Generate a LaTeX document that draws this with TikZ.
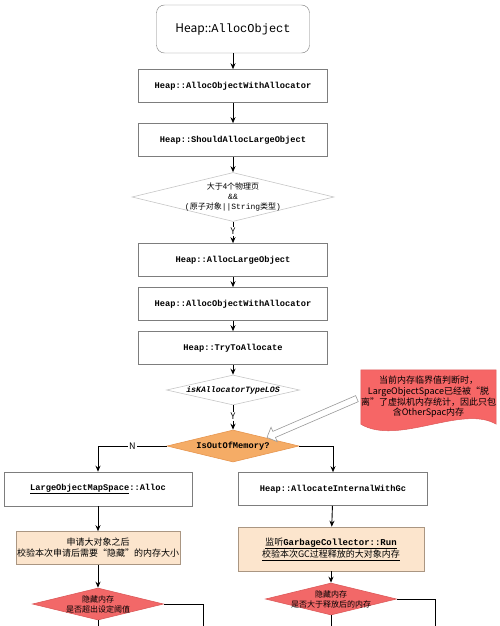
\documentclass[tikz,border=0pt]{standalone}
\usepackage{fontspec}
\setmainfont{Noto Sans CJK SC}
\setmonofont{Liberation Mono}
\usepackage{tikz}
\usetikzlibrary{shapes.geometric, shapes.arrows, arrows.meta, backgrounds}
\definecolor{oomorange}{RGB}{245,172,102}
\definecolor{oomborder}{RGB}{230,150,80}
\definecolor{alertred}{RGB}{242,104,104}
\definecolor{alertborder}{RGB}{220,90,90}
\definecolor{notered}{RGB}{246,102,102}
\definecolor{checkbeige}{RGB}{252,229,205}
\definecolor{beigeborder}{RGB}{170,150,130}
\definecolor{boxgray}{RGB}{125,125,125}
\newcommand{\codefont}{\fontsize{8.7pt}{10pt}\selectfont\ttfamily\bfseries}
\newcommand{\losfont}{\fontsize{8.2pt}{10pt}\selectfont\ttfamily\bfseries\itshape}
\newcommand{\cnfont}{\fontsize{9pt}{11pt}\selectfont}
\newcommand{\condfont}{\fontsize{8pt}{10pt}\selectfont}

\begin{document}
\begin{tikzpicture}[x=1pt, y=-1pt,
    startbox/.style={draw=boxgray, rounded corners=8pt, minimum width=153pt, minimum height=48pt, inner sep=0pt, font=\fontsize{12pt}{14pt}\selectfont},
    callbox/.style={draw=boxgray, fill=white, line width=0.6pt, minimum width=189pt, minimum height=33pt, inner sep=0pt, font=\codefont},
    checkbox/.style={draw=beigeborder, fill=checkbeige, line width=0.6pt, inner sep=0pt, font=\cnfont, align=center},
    decision/.style={diamond, draw=#1, line width=0.6pt, inner sep=0pt},
    condtext/.style={font=\condfont, align=center},
    flow/.style={line width=0.9pt, -{Stealth[length=6pt,width=5pt]}},
    stub/.style={line width=0.9pt},
    branchlabel/.style={fill=white, inner sep=1pt, font=\fontsize{9pt}{9pt}\selectfont},
    hollowarrow/.style={single arrow, draw=gray!80, fill=white, line width=0.6pt, minimum height=98pt, inner xsep=0pt, inner ysep=3pt, single arrow head extend=4.5pt, shape border rotate=180}
]
    \useasboundingbox (0,0) rectangle (500,626);

    % entry and call chain
    \node[startbox] (alloc) at (233,29) {Heap::\texttt{AllocObject}};
    \node[callbox] (withalloc) at (233,86) {Heap::AllocObjectWithAllocator};
    \node[callbox] (should) at (233,140) {Heap::ShouldAllocLargeObject};
    \node[decision=gray!45, minimum width=202pt, minimum height=49pt,
          label={[condtext]center:{大于4个物理页\\\texttt{\&\&}\\\texttt{(}原子对象\texttt{||String}类型\texttt{)}}}] (islarge) at (233,197) {};
    \node[callbox] (alloclarge) at (233,260) {Heap::AllocLargeObject};
    \node[callbox] (withalloc2) at (233,304) {Heap::AllocObjectWithAllocator};
    \node[callbox] (tryalloc) at (233,348) {Heap::TryToAllocate};
    \node[decision=gray!45, minimum width=133pt, minimum height=30pt,
          label={[font=\losfont]center:isKAllocatorTypeLOS}] (islos) at (233,390) {};
    \node[decision=oomborder, fill=oomorange, minimum width=132pt, minimum height=32pt,
          label={[font=\codefont]center:IsOutOfMemory?}] (oom) at (233,446) {};

    % N branch
    \node[callbox, minimum width=188pt, minimum height=34pt] (losalloc) at (98,489) {\underline{LargeObjectMapSpace}::Alloc};
    \node[checkbox, minimum width=164pt, minimum height=33pt] (lcheck) at (98,548) {申请大对象之后\\校验本次申请后需要“隐藏”的内存大小};
    \node[decision=alertborder, fill=alertred, minimum width=131pt, minimum height=32pt,
          label={[condtext]center:{隐藏内存\\是否超出设定阈值}}] (lhidden) at (98,604) {};

    % GC branch
    \node[callbox] (gcalloc) at (333,489) {Heap::AllocateInternalWithGc};
    \node[checkbox, minimum width=186pt, minimum height=44pt] (rcheck) at (331,549) {\underline{监听\texttt{\bfseries GarbageCollector::Run}}\\\underline{校验本次GC过程释放的大对象内存}};
    \node[decision=alertborder, fill=alertred, minimum width=131pt, minimum height=32pt,
          label={[condtext]center:{隐藏内存\\是否大于释放后的内存}}] (rhidden) at (331,599) {};

    % note
    \node[font=\fontsize{9pt}{10.7pt}\selectfont, align=center, minimum width=131pt, minimum height=54pt, inner sep=0pt] (note) at (428.5,397)
        {当前内存临界值判断时，\\LargeObjectSpace已经被“脱\\离”了虚拟机内存统计，因此只包\\含OtherSpac内存};
    \begin{scope}[on background layer]
        \filldraw[fill=notered, draw=alertborder, line width=0.5pt] (note.north west) -- (note.north east) -- (note.south east)
            .. controls +(-34,-20) and +(37,22) .. (note.south west) -- cycle;
    \end{scope}
    \path (oom.north east) -- (note.west) node[midway, sloped, hollowarrow] (pointer) {};

    % connectors
    \draw[flow] (alloc) -- (withalloc);
    \draw[flow] (withalloc) -- (should);
    \draw[flow] (should) -- (islarge);
    \draw[flow] (islarge) -- node[branchlabel, pos=0.45] {Y} (alloclarge);
    \draw[flow] (alloclarge) -- (withalloc2);
    \draw[flow] (withalloc2) -- (tryalloc);
    \draw[flow] (tryalloc) -- (islos);
    \draw[flow] (islos) -- node[branchlabel, pos=0.45] {Y} (oom);
    \draw[flow] (oom.west) -| node[branchlabel, pos=0.25] {N} (losalloc.north);
    \draw[flow] (oom.east) -| (gcalloc.north);
    \draw[flow] (losalloc) -- (lcheck);
    \draw[flow] (lcheck) -- (lhidden);
    \draw[flow] (gcalloc) -- (rcheck);
    \draw[flow] (rcheck) -- (rhidden);

    % lines leaving the bottom edge
    \coordinate (lout) at (98,626);
    \coordinate (lside) at (203,626);
    \coordinate (rout) at (331,626);
    \coordinate (rside) at (435,626);
    \draw[stub] (lhidden.south) -- (lout);
    \draw[stub] (lhidden.east) -| (lside);
    \draw[stub] (rhidden.south) -- (rout);
    \draw[stub] (rhidden.east) -| (rside);
\end{tikzpicture}
\end{document}
